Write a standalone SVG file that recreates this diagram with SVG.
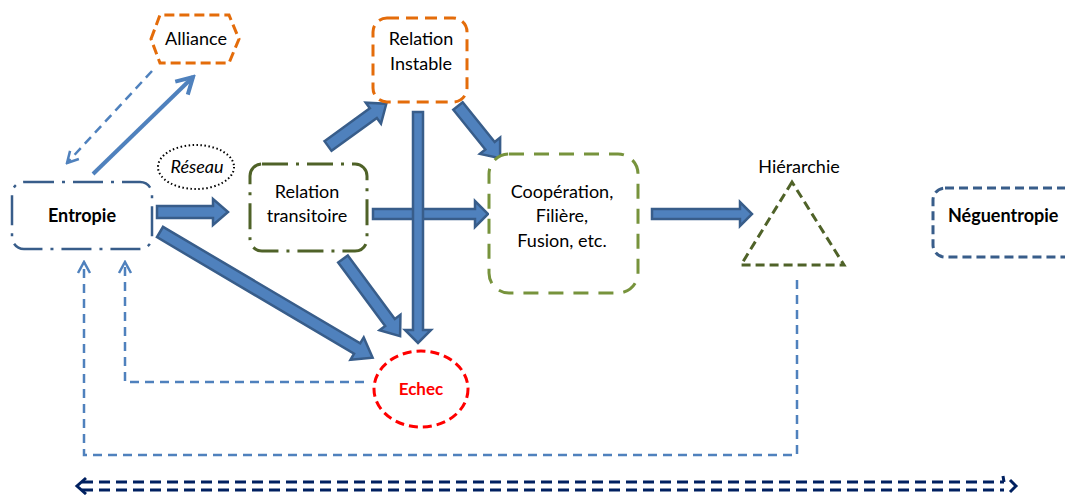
<svg xmlns="http://www.w3.org/2000/svg" width="1065" height="495" viewBox="0 0 1065 495">
<style>
text{font-family:Lato,"Open Sans","Liberation Sans",sans-serif;font-size:18px;fill:#000;text-anchor:middle}
.b{font-weight:bold}
.blk{fill:#4F81BD;stroke:#385D8A;stroke-width:2.5;stroke-linejoin:miter}
.thin{fill:none;stroke:#4F81BD}
.fb{fill:none;stroke:#4F81BD;stroke-width:2.5;stroke-dasharray:9 6}
</style>
<defs>
<marker id="openBig" viewBox="0 0 24 24" refX="21" refY="12" markerWidth="24" markerHeight="24" markerUnits="userSpaceOnUse" orient="auto">
<path d="M5,3 L21,12 L5,21" fill="none" stroke="#4F81BD" stroke-width="4"/>
</marker>
<marker id="openSm" viewBox="0 0 16 16" refX="14" refY="8" markerWidth="16" markerHeight="16" markerUnits="userSpaceOnUse" orient="auto">
<path d="M3,2 L14,8 L3,14" fill="none" stroke="#4F81BD" stroke-width="2.5"/>
</marker>
</defs>
<rect width="1065" height="495" fill="#fff"/>

<g id="connectors">
<!-- feedback dashed -->
<polyline class="fb" points="364,382 125,382 125,262" marker-end="url(#openSm)"/>
<polyline class="fb" points="797,280 797,455 84,455 84,262" marker-end="url(#openSm)"/>
<!-- alliance arrows -->
<line class="thin" x1="93" y1="174" x2="193" y2="77" stroke-width="4" marker-end="url(#openBig)"/>
<line class="fb" x1="152" y1="71" x2="67" y2="163" marker-end="url(#openSm)"/>
<!-- block arrows -->
<polygon class="blk" transform="translate(157,212)" points="0,-6 56,-6 56,-13 71,0 56,13 56,6 0,6"/>
<polygon class="blk" transform="translate(160,232) rotate(30.6)" points="0,-6 229,-6 229,-13 247,0 229,13 229,6 0,6"/>
<polygon class="blk" transform="translate(343,259) rotate(53.5)" points="0,-6 79,-6 79,-13 96,0 79,13 79,6 0,6"/>
<polygon class="blk" transform="translate(328,146) rotate(-35.9)" points="0,-6 56,-6 56,-13 72,0 56,13 56,6 0,6"/>
<polygon class="blk" transform="translate(458,106) rotate(51.1)" points="0,-6 51,-6 51,-13 67,0 51,13 51,6 0,6"/>
<polygon class="blk" transform="translate(373,214)" points="0,-5 102,-5 102,-13 115,0 102,13 102,5 0,5"/>
<polygon class="blk" transform="translate(418,112) rotate(90)" points="0,-5 218,-5 218,-13 231,0 218,13 218,5 0,5"/>
<polygon class="blk" transform="translate(652,214)" points="0,-5 88,-5 88,-12 100,0 88,12 88,5 0,5"/>
<!-- bottom double arrow -->
<g fill="none" stroke="#002060" stroke-width="3">
<line x1="82" y1="482" x2="1004" y2="482" stroke-dasharray="11 6"/>
<line x1="82" y1="490" x2="1004" y2="490" stroke-dasharray="11 6"/>
<path d="M86,478 L77,486 L86,494"/>
<path d="M1010,480 L1016,486 L1010,492"/>
<path d="M1003,476 L1004,482"/>
</g>
</g>

<g id="alliance">
<polygon points="151,39 160,15 229,15 239,39 229,63 160,63" fill="#fff" stroke="#E46C0A" stroke-width="3" stroke-dasharray="10 5"/>
<text x="196" y="45">Alliance</text>
</g>
<g id="entropie">
<rect x="12" y="182" width="140" height="67" rx="12" fill="#fff" stroke="#385D8A" stroke-width="2.5" stroke-dasharray="30 8 3 8"/>
<text class="b" x="82" y="222">Entropie</text>
</g>
<g id="reseau">
<ellipse cx="196" cy="167" rx="38" ry="22" fill="#fff" stroke="#000" stroke-width="2" stroke-dasharray="1.5 2.5"/>
<text x="197" y="173" font-style="italic">Réseau</text>
</g>
<g id="relation-transitoire">
<rect x="250" y="164" width="117" height="87" rx="12" fill="#fff" stroke="#4F6228" stroke-width="3" stroke-dasharray="26 8 3 8"/>
<text x="307" y="198">Relation</text>
<text x="307" y="222">transitoire</text>
</g>
<g id="relation-instable">
<rect x="373" y="18" width="94" height="84" rx="14" fill="#fff" stroke="#E46C0A" stroke-width="3" stroke-dasharray="12 7"/>
<text x="421" y="45">Relation</text>
<text x="421" y="70">Instable</text>
</g>
<g id="cooperation">
<rect x="489" y="154" width="149" height="139" rx="20" fill="#fff" stroke="#77933C" stroke-width="3" stroke-dasharray="15 10"/>
<text x="562" y="198">Coopération,</text>
<text x="562" y="222">Filière,</text>
<text x="562" y="247">Fusion, etc.</text>
</g>
<g id="hierarchie">
<polygon points="792,182 741,265 844,265" fill="#fff" stroke="#4F6228" stroke-width="3" stroke-dasharray="9 5"/>
<text x="799" y="173">Hiérarchie</text>
</g>
<g id="neguentropie">
<rect x="933" y="188" width="150" height="69" rx="12" fill="#fff" stroke="#385D8A" stroke-width="3" stroke-dasharray="9 5"/>
<text class="b" x="948" y="222" style="text-anchor:start">Néguentropie</text>
</g>
<g id="echec">
<ellipse cx="421" cy="389" rx="47" ry="38" fill="#fff" stroke="#FF0000" stroke-width="3" stroke-dasharray="9 5"/>
<text class="b" x="421" y="395" style="fill:#FF0000;font-size:17px">Echec</text>
</g>
</svg>
